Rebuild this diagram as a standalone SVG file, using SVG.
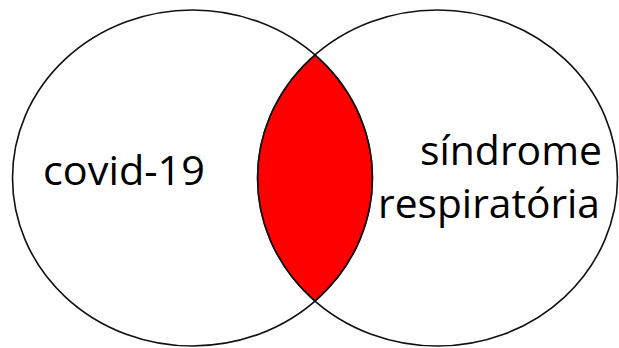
<svg xmlns="http://www.w3.org/2000/svg" width="619" height="348" viewBox="0 0 619 348">
<style>
.set{fill:none;stroke:#111;stroke-width:1.6}
.lens{fill:#ff0000;stroke:#111;stroke-width:1.4}
.lbl{font-family:"Open Sans","Liberation Sans",sans-serif;font-size:41px;fill:#000}
</style>
<rect width="619" height="348" fill="#fff"/>
<g id="intersection">
<path class="lens" d="M315,55 A180,168 0 0,0 315,301 A180,168 0 0,0 315,55 Z"/>
</g>
<g id="covid">
<ellipse class="set" cx="192.5" cy="178" rx="180" ry="168"/>
<text class="lbl" x="43" y="185" textLength="162" lengthAdjust="spacingAndGlyphs">covid-19</text>
</g>
<g id="sindrome">
<ellipse class="set" cx="437.5" cy="178" rx="180" ry="168"/>
<text class="lbl" x="420" y="165" textLength="182" lengthAdjust="spacingAndGlyphs">síndrome</text>
<text class="lbl" x="378" y="218" textLength="222" lengthAdjust="spacingAndGlyphs">respiratória</text>
</g>
<g id="connectors"></g>
</svg>
